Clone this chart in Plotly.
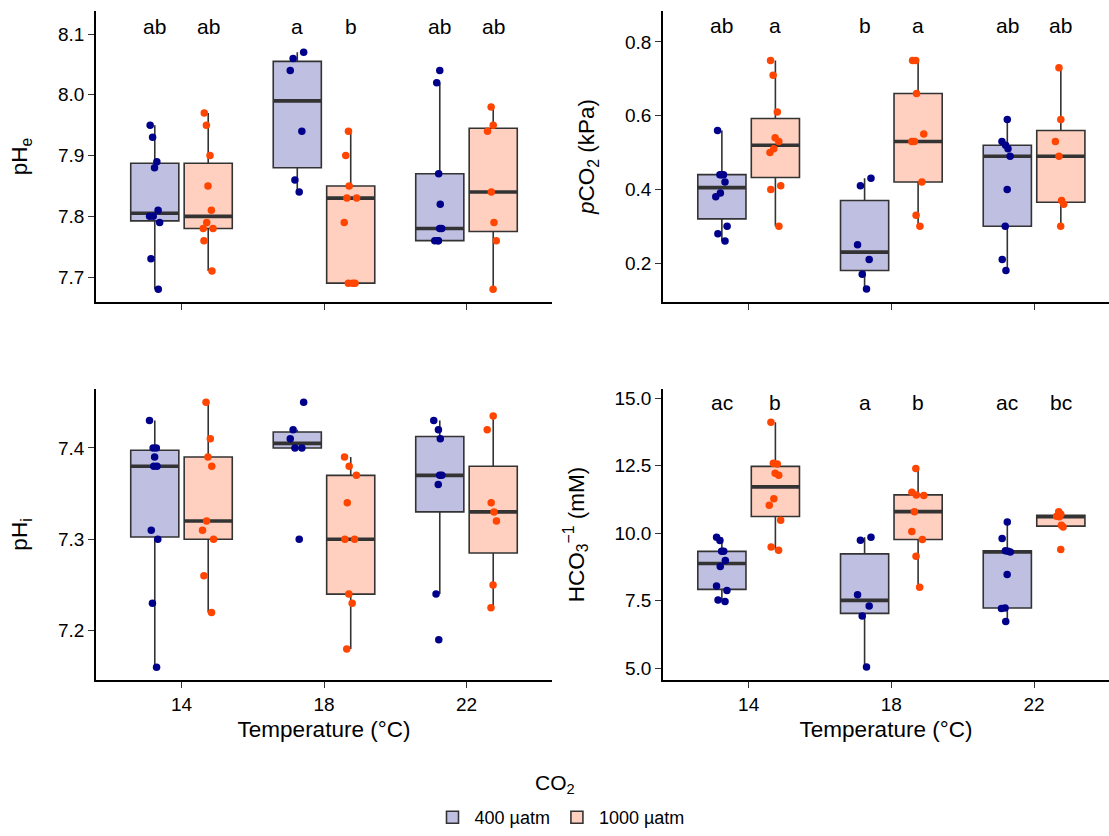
import numpy as np
import plotly.graph_objects as go

temps = ["14", "18", "22"]
co2_names = ["400 µatm", "1000 µatm"]

# ---- data (one inner list per temperature) ----
phe_400 = [[7.95, 7.93, 7.89, 7.88, 7.81, 7.80, 7.80, 7.79, 7.73, 7.68],
           [8.07, 8.06, 8.04, 7.94, 7.86, 7.84],
           [8.04, 8.02, 7.87, 7.82, 7.78, 7.78, 7.76, 7.76, 7.76]]
phe_1000 = [[7.97, 7.95, 7.90, 7.85, 7.81, 7.79, 7.78, 7.78, 7.76, 7.71],
            [7.94, 7.90, 7.85, 7.83, 7.83, 7.79, 7.69, 7.69, 7.69],
            [7.98, 7.95, 7.94, 7.84, 7.79, 7.76, 7.68]]
pco2_400 = [[0.56, 0.44, 0.44, 0.44, 0.42, 0.39, 0.38, 0.30, 0.28, 0.26],
            [0.43, 0.41, 0.25, 0.21, 0.17, 0.13],
            [0.59, 0.53, 0.52, 0.51, 0.49, 0.40, 0.30, 0.21, 0.18]]
pco2_1000 = [[0.75, 0.71, 0.61, 0.54, 0.53, 0.51, 0.50, 0.41, 0.40, 0.30],
             [0.75, 0.75, 0.66, 0.55, 0.53, 0.53, 0.42, 0.33, 0.30],
             [0.73, 0.59, 0.53, 0.49, 0.37, 0.36, 0.30]]
phi_400 = [[7.43, 7.40, 7.40, 7.39, 7.38, 7.38, 7.31, 7.30, 7.23, 7.16],
           [7.45, 7.42, 7.41, 7.40, 7.40, 7.30],
           [7.43, 7.42, 7.41, 7.37, 7.37, 7.36, 7.24, 7.19]]
phi_1000 = [[7.45, 7.41, 7.39, 7.38, 7.32, 7.31, 7.30, 7.26, 7.22],
            [7.39, 7.38, 7.37, 7.34, 7.30, 7.30, 7.24, 7.23, 7.18],
            [7.435, 7.42, 7.34, 7.33, 7.32, 7.25, 7.225]]
hco3_400 = [[9.85, 9.73, 9.33, 9.33, 8.99, 8.77, 8.05, 7.88, 7.53, 7.47],
            [9.85, 9.74, 7.72, 7.31, 6.94, 5.05],
            [10.42, 9.81, 9.35, 9.33, 9.31, 8.47, 7.23, 7.21, 6.73]]
hco3_1000 = [[14.11, 12.59, 12.56, 12.22, 12.15, 11.28, 11.04, 10.48, 9.49, 9.37],
             [12.40, 11.52, 11.42, 11.40, 10.80, 10.06, 9.77, 9.15, 8.00],
             [10.80, 10.70, 10.63, 10.61, 10.30, 10.23, 9.40]]

phe_letters = [["ab", "a", "ab"], ["ab", "b", "ab"]]
pco2_letters = [["ab", "b", "ab"], ["a", "a", "ab"]]
hco3_letters = [["ac", "a", "ac"], ["b", "b", "bc"]]

phe_ticks = [7.7, 7.8, 7.9, 8.0, 8.1]
pco2_ticks = [0.2, 0.4, 0.6, 0.8]
phi_ticks = [7.2, 7.3, 7.4]
hco3_ticks = [5.0, 7.5, 10.0, 12.5, 15.0]

# ---- styles ----
point_colors = ["#00008B", "#FF4500"]
fill_colors = ["rgba(0,0,139,0.25)", "rgba(255,69,0,0.25)"]
box_line = "#333333"
FONT = "Liberation Sans, Arial, sans-serif"
BOXGAP = 0.25
BOXGROUPGAP = 0.1
W, H = 1109, 836
TICK_SIZE = 19
TITLE_SIZE = 22.5


def box_stats(vals):
    a = np.sort(np.asarray(vals, dtype=float))
    q1, med, q3 = np.percentile(a, [25, 50, 75])
    iqr = q3 - q1
    lo = a[a >= q1 - 1.5 * iqr].min()
    hi = a[a <= q3 + 1.5 * iqr].max()
    return q1, med, q3, lo, hi


panels = [
    dict(ax="", d400=phe_400, d1000=phe_1000, letters=phe_letters, ticks=phe_ticks, fmt="{:.1f}",
         xdom=[96 / W, 552 / W], ydom=[1 - 302 / H, 1 - 11 / H], xr=[-0.6, 2.6], yr=[7.659, 8.138],
         ytitle="pH<sub>e</sub>", bottom=False, lety=8.113),
    dict(ax="2", d400=pco2_400, d1000=pco2_1000, letters=pco2_letters, ticks=pco2_ticks, fmt="{:.1f}",
         xdom=[663 / W, 1.0], ydom=[1 - 302 / H, 1 - 11 / H], xr=[-0.6, 2.525], yr=[0.0946, 0.884],
         ytitle="<i>p</i>CO<sub>2</sub> (kPa)", bottom=False, lety=0.844),
    dict(ax="3", d400=phi_400, d1000=phi_1000, letters=None, ticks=phi_ticks, fmt="{:.1f}",
         xdom=[96 / W, 552 / W], ydom=[1 - 680 / H, 1 - 389 / H], xr=[-0.6, 2.6], yr=[7.146, 7.4645],
         ytitle="pH<sub>i</sub>", bottom=True, lety=None),
    dict(ax="4", d400=hco3_400, d1000=hco3_1000, letters=hco3_letters, ticks=hco3_ticks, fmt="{:.1f}",
         xdom=[663 / W, 1.0], ydom=[1 - 680 / H, 1 - 389 / H], xr=[-0.6, 2.525], yr=[4.567, 15.34],
         ytitle="HCO<sub>3</sub><sup>−1</sup> (mM)", bottom=True, lety=14.83),
]

fig = go.Figure()
annotations = []
group_offset = (1 - BOXGAP) / 4.0

for pi, p in enumerate(panels):
    xa, ya = "x" + p["ax"], "y" + p["ax"]
    for gi, data in enumerate([p["d400"], p["d1000"]]):
        st = [box_stats(v) for v in data]
        q1 = [s[0] for s in st]
        med = [s[1] for s in st]
        q3 = [s[2] for s in st]
        lo = [s[3] for s in st]
        hi = [s[4] for s in st]
        og = "g%d" % gi
        fig.add_trace(go.Box(
            x=temps, q1=q1, median=med, q3=q3, lowerfence=lo, upperfence=hi,
            fillcolor=fill_colors[gi], line=dict(color=box_line, width=1.6), whiskerwidth=0,
            boxpoints=False, offsetgroup=og, alignmentgroup="a",
            name=co2_names[gi], legendgroup=og, showlegend=(pi == 0),
            xaxis=xa, yaxis=ya, hoverinfo="skip"))
        fig.add_trace(go.Box(
            x=temps, q1=med, median=med, q3=med, lowerfence=med, upperfence=med,
            fillcolor="rgba(0,0,0,0)", line=dict(color=box_line, width=3.6), whiskerwidth=0,
            boxpoints=False, offsetgroup=og, alignmentgroup="a",
            name=co2_names[gi], legendgroup=og, showlegend=False,
            xaxis=xa, yaxis=ya, hoverinfo="skip"))
        xs, ys = [], []
        for t, vals in zip(temps, data):
            xs += [t] * len(vals)
            ys += list(vals)
        fig.add_trace(go.Box(
            x=xs, y=ys, boxpoints="all", jitter=0.3, pointpos=0, whiskerwidth=0,
            fillcolor="rgba(0,0,0,0)", line=dict(color="rgba(0,0,0,0)", width=0),
            marker=dict(color=point_colors[gi], size=7.5),
            offsetgroup=og, alignmentgroup="a",
            name=co2_names[gi], legendgroup=og, showlegend=False,
            xaxis=xa, yaxis=ya, hoverinfo="skip"))
        if p["letters"] is not None:
            sign = -1 if gi == 0 else 1
            for ti, lab in enumerate(p["letters"][gi]):
                annotations.append(dict(
                    x=ti + sign * group_offset, y=p["lety"], xref=xa, yref=ya,
                    text=lab, showarrow=False, font=dict(size=21, color="black", family=FONT),
                    xanchor="center", yanchor="middle"))

    xkey = "xaxis" + p["ax"]
    ykey = "yaxis" + p["ax"]
    xdict = dict(domain=p["xdom"], anchor=ya, type="category", categoryorder="array",
                 categoryarray=temps, range=p["xr"], showline=True, linecolor="black",
                 linewidth=1.6, ticks="outside", ticklen=6, tickwidth=1.4, tickcolor="#333333",
                 showgrid=False, zeroline=False, showticklabels=p["bottom"],
                 tickfont=dict(size=TICK_SIZE, color="black", family=FONT))
    if p["bottom"]:
        xdict["title"] = dict(text="Temperature (°C)",
                              font=dict(size=TITLE_SIZE, color="black", family=FONT), standoff=8)
    ydict = dict(domain=p["ydom"], anchor=xa, range=p["yr"], tickmode="array",
                 tickvals=p["ticks"], ticktext=[p["fmt"].format(v) for v in p["ticks"]],
                 showline=True, linecolor="black", linewidth=1.6, ticks="outside", ticklen=6,
                 tickwidth=1.4, tickcolor="#333333", showgrid=False, zeroline=False,
                 tickfont=dict(size=TICK_SIZE, color="black", family=FONT),
                 title=dict(text=p["ytitle"], font=dict(size=TITLE_SIZE, color="black", family=FONT),
                            standoff=24))
    fig.layout[xkey] = xdict
    fig.layout[ykey] = ydict

annotations.append(dict(x=555 / W, y=1 - 784 / H, xref="paper", yref="paper",
                        text="CO<sub>2</sub>", showarrow=False,
                        font=dict(size=21, color="black", family=FONT),
                        xanchor="center", yanchor="middle"))

fig.update_layout(
    width=W, height=H,
    margin=dict(l=0, r=0, t=0, b=0),
    paper_bgcolor="white", plot_bgcolor="white",
    boxmode="group", boxgap=BOXGAP, boxgroupgap=BOXGROUPGAP,
    font=dict(family=FONT, color="black"),
    annotations=annotations,
    legend=dict(orientation="h", x=560 / W, xanchor="center", y=0.0, yanchor="bottom",
                font=dict(size=18, color="black", family=FONT), bgcolor="rgba(0,0,0,0)",
                itemwidth=34),
)

fig.write_html("out.html", config={"displayModeBar": False},
               post_script="document.body.style.margin='0';")
